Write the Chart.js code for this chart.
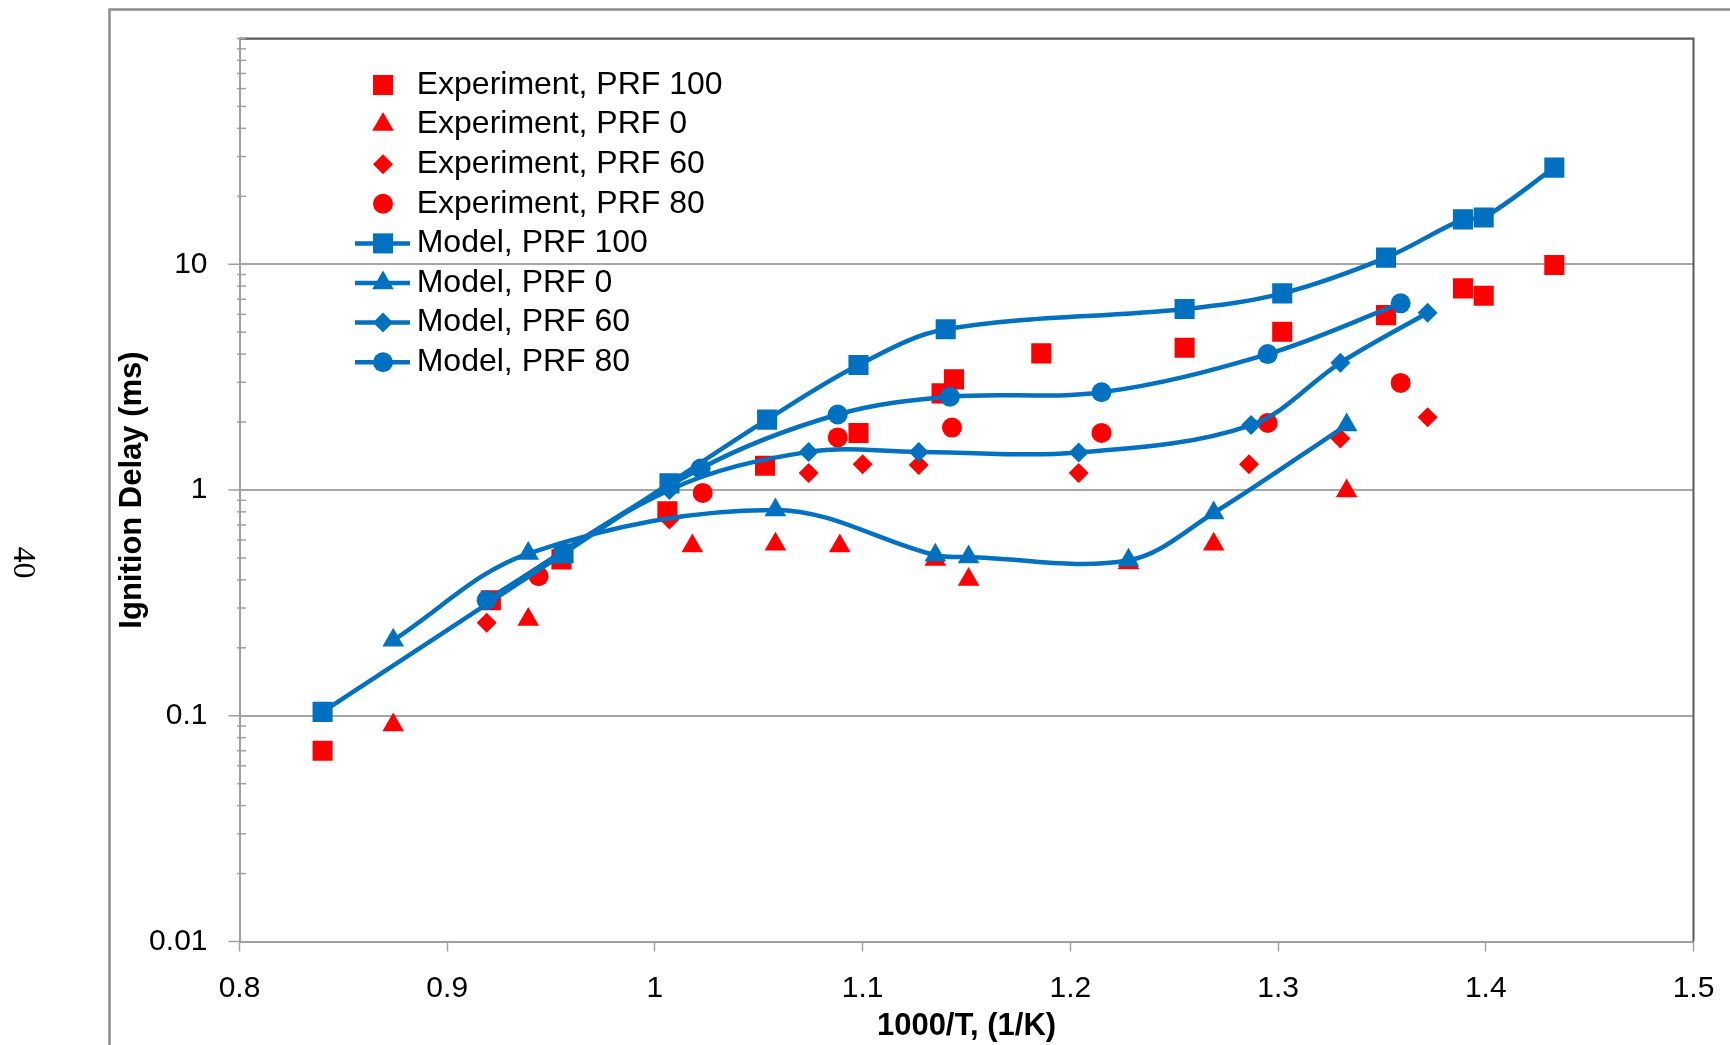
<!DOCTYPE html>
<html>
<head>
<meta charset="utf-8">
<title>Ignition delay vs 1000/T</title>
<script src="https://cdn.jsdelivr.net/npm/chart.js@4.4.1/dist/chart.umd.min.js"></script>
<style>
  html, body { margin: 0; padding: 0; background: #fff; }
  #wrap { width: 1730px; height: 1045px; }
</style>
</head>
<body>
<div id="wrap"><canvas id="chart" width="1730" height="1045"></canvas></div>
<script>
// measured ignition delays (ms) against 1000/T (1/K)
const expPRF100X = [0.840, 0.921, 0.955, 1.006, 1.053, 1.098, 1.138, 1.144, 1.186, 1.255, 1.302, 1.352, 1.389, 1.399, 1.433];
const expPRF100Y = [0.070, 0.325, 0.493, 0.805, 1.28, 1.79, 2.68, 3.09, 4.03, 4.27, 5.02, 5.95, 7.82, 7.25, 9.92];

const expPRF0X = [0.874, 0.939, 1.018, 1.058, 1.089, 1.135, 1.151, 1.228, 1.269, 1.333];
const expPRF0Y = [0.091, 0.267, 0.565, 0.575, 0.565, 0.492, 0.401, 0.475, 0.575, 0.991];

const expPRF60X = [0.919, 1.007, 1.074, 1.100, 1.127, 1.204, 1.286, 1.330, 1.372];
const expPRF60Y = [0.258, 0.74, 1.19, 1.30, 1.29, 1.19, 1.30, 1.69, 2.10];

const expPRF80X = [0.944, 1.023, 1.088, 1.143, 1.215, 1.295, 1.359];
const expPRF80Y = [0.415, 0.971, 1.71, 1.89, 1.79, 1.98, 2.98];

// model predictions
const modPRF100X = [0.840, 0.956, 1.007, 1.054, 1.098, 1.140, 1.255, 1.302, 1.352, 1.389, 1.399, 1.433];
const modPRF100Y = [0.104, 0.523, 1.07, 2.05, 3.58, 5.15, 6.33, 7.43, 10.7, 15.8, 16.1, 26.8];

const modPRF0X = [0.874, 0.939, 1.058, 1.135, 1.151, 1.228, 1.269, 1.333];
const modPRF0Y = [0.216, 0.523, 0.816, 0.514, 0.505, 0.488, 0.791, 1.94];

const modPRF60X = [0.919, 1.007, 1.074, 1.127, 1.204, 1.287, 1.330, 1.372];
const modPRF60Y = [0.325, 1.0, 1.475, 1.475, 1.466, 1.94, 3.66, 6.10];

const modPRF80X = [0.919, 1.022, 1.088, 1.142, 1.215, 1.295, 1.359];
const modPRF80Y = [0.325, 1.245, 2.16, 2.59, 2.71, 4.0, 6.71];

const xTicks = [0.8, 0.9, 1.0, 1.1, 1.2, 1.3, 1.4, 1.5];
const yLabelled = [0.01, 0.1, 1, 10];

const RED = "#FF0000";
const BLUE = "#0070C0";
const SANS = '"Liberation Sans", Arial, sans-serif';

const pts = (xs, ys) => xs.map((x, i) => ({ x: x, y: ys[i] }));

const isDecade = (v) => Math.abs(Math.log10(v) - Math.round(Math.log10(v))) < 1e-6;

const expSet = (label, xs, ys, style, r) => ({
   label: label,
   data: pts(xs, ys),
   showLine: false,
   pointStyle: style,
   pointRadius: r,
   pointBackgroundColor: RED,
   pointBorderWidth: 0,
   backgroundColor: RED,
   borderColor: RED,
});

const modSet = (label, xs, ys, style, r) => ({
   label: label,
   data: pts(xs, ys),
   showLine: true,
   tension: 0.35,
   borderColor: BLUE,
   borderWidth: 4.5,
   pointStyle: style,
   pointRadius: r,
   pointBackgroundColor: BLUE,
   pointBorderWidth: 0,
   backgroundColor: BLUE,
});

const datasets = [
   expSet("Experiment, PRF 100", expPRF100X, expPRF100Y, "rect", 14.2),
   expSet("Experiment, PRF 0", expPRF0X, expPRF0Y, "triangle", 12.5),
   expSet("Experiment, PRF 60", expPRF60X, expPRF60Y, "rectRot", 10),
   expSet("Experiment, PRF 80", expPRF80X, expPRF80Y, "circle", 10),
   modSet("Model, PRF 100", modPRF100X, modPRF100Y, "rect", 14.2),
   modSet("Model, PRF 0", modPRF0X, modPRF0Y, "triangle", 12.5),
   modSet("Model, PRF 60", modPRF60X, modPRF60Y, "rectRot", 10),
   modSet("Model, PRF 80", modPRF80X, modPRF80Y, "circle", 10),
];
// later series sit on top, like the spreadsheet it came from
datasets.forEach((ds, i) => { ds.order = datasets.length - 1 - i; });

// keep the plot box fixed: no extra room reserved for end labels
const noEdgePadding = (scale) => {
   scale.paddingTop = 0;
   scale.paddingBottom = 0;
   scale.paddingLeft = 0;
   scale.paddingRight = 0;
};

// frame, plot border, log tick marks and the page number
const decorations = {
   id: "decorations",
   afterDraw(chart) {
      const { ctx, chartArea: area } = chart;
      const yScale = chart.scales.y;
      ctx.save();

      ctx.strokeStyle = "#8c8c8c";
      ctx.lineWidth = 2.5;
      ctx.beginPath();
      ctx.moveTo(109.5, 1045);
      ctx.lineTo(109.5, 9.5);
      ctx.lineTo(1730, 9.5);
      ctx.stroke();

      ctx.strokeStyle = "#5a5a5a";
      ctx.lineWidth = 2;
      ctx.beginPath();
      ctx.moveTo(area.left, area.top);
      ctx.lineTo(area.right, area.top);
      ctx.lineTo(area.right, area.bottom);
      ctx.stroke();

      ctx.strokeStyle = "#a0a0a0";
      ctx.lineWidth = 1.5;
      for (let e = -2; e <= 2; e++) {
         for (let m = 1; m <= 9; m++) {
            const v = m * Math.pow(10, e);
            if (v > 100.001) break;
            const py = yScale.getPixelForValue(v);
            ctx.beginPath();
            if (m === 1 && e < 2) {
               ctx.moveTo(area.left - 11, py);
               ctx.lineTo(area.left, py);
            } else {
               ctx.moveTo(area.left - 2.5, py);
               ctx.lineTo(area.left + 6.5, py);
            }
            ctx.stroke();
         }
      }

      ctx.translate(22.5, 562.5);
      ctx.rotate(Math.PI / 2);
      ctx.fillStyle = "#000";
      ctx.font = '32px "Liberation Serif", "Times New Roman", serif';
      ctx.textAlign = "center";
      ctx.textBaseline = "middle";
      ctx.fillText("40", 0, 0);
      ctx.restore();
   },
};

// legend inside the plot, marker column with line stubs for the model series
const insideLegend = {
   id: "insideLegend",
   afterDraw(chart) {
      const { ctx } = chart;
      const helpers = Chart.helpers;
      ctx.save();
      chart.data.datasets.forEach((ds, i) => {
         const y = 85 + i * 39.6;
         if (ds.showLine) {
            ctx.strokeStyle = ds.borderColor;
            ctx.lineWidth = ds.borderWidth;
            ctx.beginPath();
            ctx.moveTo(355, y);
            ctx.lineTo(410, y);
            ctx.stroke();
         }
         ctx.fillStyle = ds.pointBackgroundColor;
         helpers.drawPoint(ctx, { pointStyle: ds.pointStyle, radius: ds.pointRadius, borderWidth: 0, rotation: 0 }, 383, y);
         ctx.fillStyle = "#000";
         ctx.font = "32px " + SANS;
         ctx.textAlign = "left";
         ctx.textBaseline = "middle";
         ctx.fillText(ds.label, 416.7, y);
      });
      ctx.restore();
   },
};

const canvas = document.getElementById("chart");
const ctx = canvas.getContext("2d");

new Chart(ctx, {
   type: "scatter",
   data: { datasets: datasets },
   options: {
      responsive: false,
      devicePixelRatio: 1,
      animation: false,
      layout: { padding: { top: 38.5, right: 36.5, left: 0, bottom: 0 } },
      plugins: {
         legend: { display: false },
         tooltip: { enabled: false },
      },
      scales: {
         x: {
            type: "linear",
            min: xTicks[0],
            max: xTicks[xTicks.length - 1],
            afterBuildTicks: (scale) => {
               scale.ticks = xTicks.map((v) => ({ value: v }));
            },
            afterFit: (scale) => {
               scale.height = 103.5;
               noEdgePadding(scale);
            },
            ticks: {
               font: { family: SANS, size: 30 },
               color: "#000",
               padding: 19.4,
               maxRotation: 0,
               callback: (v) => String(Math.round(v * 10) / 10),
            },
            grid: {
               drawOnChartArea: false,
               drawTicks: true,
               tickLength: 10,
               tickColor: "#a0a0a0",
               tickWidth: 1.5,
            },
            border: { color: "#a0a0a0", width: 2 },
            title: {
               display: true,
               text: "1000/T, (1/K)",
               color: "#000",
               font: { family: SANS, size: 31, weight: "bold" },
               padding: { top: 0, bottom: 0 },
            },
         },
         y: {
            type: "logarithmic",
            min: 0.01,
            max: 100,
            afterFit: (scale) => {
               scale.width = 239.5;
               noEdgePadding(scale);
            },
            ticks: {
               autoSkip: false,
               font: { family: SANS, size: 30 },
               color: "#000",
               padding: 32,
               callback: (v) => {
                  const hit = yLabelled.find((t) => Math.abs(t - v) < t * 1e-6);
                  if (hit === undefined) return "";
                  const e = Math.round(Math.log10(hit));
                  return e < 0 ? hit.toFixed(-e) : String(hit);
               },
            },
            grid: {
               drawTicks: false,
               lineWidth: 2,
               color: (c) => (c.tick && isDecade(c.tick.value) ? "#a6a6a6" : "rgba(0,0,0,0)"),
            },
            border: { color: "#a0a0a0", width: 2 },
            title: {
               display: true,
               text: "Ignition Delay (ms)",
               color: "#000",
               font: { family: SANS, size: 31, weight: "bold" },
               padding: { top: 114, bottom: 0 },
            },
         },
      },
   },
   plugins: [decorations, insideLegend],
});
</script>
</body>
</html>
